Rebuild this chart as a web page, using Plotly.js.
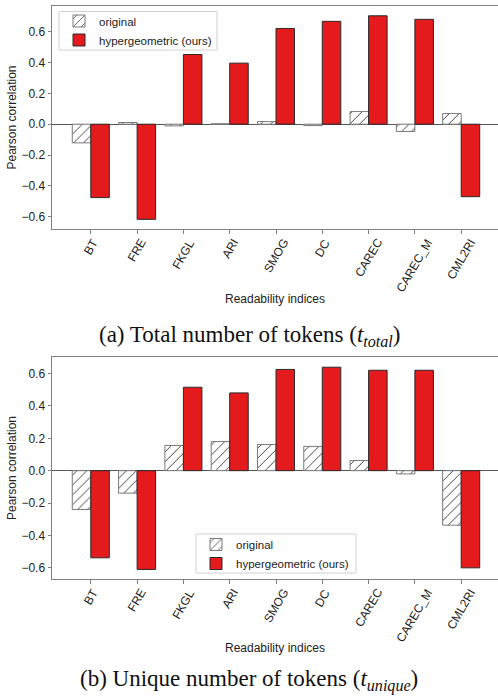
<!DOCTYPE html>
<html>
<head>
<meta charset="utf-8">
<script src="https://cdn.plot.ly/plotly-3.0.1.min.js"></script>
<style>html,body{margin:0;padding:0;background:#fff;}#chart{width:498px;height:697px;}</style>
</head>
<body>
<div id="chart"></div>
<script>
// ---- data ----
const categories = ['BT', 'FRE', 'FKGL', 'ARI', 'SMOG', 'DC', 'CAREC', 'CAREC_M', 'CML2RI'];
const seriesNames = ['original', 'hypergeometric (ours)'];
// (a) total number of tokens
const totalOriginal = [-0.121, 0.011, -0.011, 0.003, 0.017, -0.009, 0.082, -0.047, 0.069];
const totalHyper = [-0.476, -0.617, 0.452, 0.396, 0.621, 0.667, 0.703, 0.680, -0.470];
// (b) unique number of tokens
const uniqueOriginal = [-0.240, -0.139, 0.156, 0.180, 0.162, 0.150, 0.063, -0.020, -0.337];
const uniqueHyper = [-0.539, -0.611, 0.516, 0.481, 0.626, 0.640, 0.621, 0.621, -0.601];
const yTitle = 'Pearson correlation';
const xTitle = 'Readability indices';
const captionA = '(a) Total number of tokens (<i>t</i><sub><i>total</i></sub>)';
const captionB = '(b) Unique number of tokens (<i>t</i><sub><i>unique</i></sub>)';

// ---- style ----
const W = 498, H = 697;
const SANS = 'Liberation Sans, Arial, sans-serif';
const SERIF = 'Liberation Serif, Times New Roman, serif';
const RED = '#e41a1c';
const AXC = '#808080';
const py = p => 1 - p / H;
const px = p => p / W;

function origTrace(y, xa, ya, leg) {
  return {
    type: 'bar', x: categories, y: y, xaxis: xa, yaxis: ya, name: seriesNames[0], legend: leg,
    marker: {color: 'white', line: {color: '#7a7a7a', width: 1},
      pattern: {shape: '/', fgcolor: '#222', bgcolor: 'white', size: 7, solidity: 0.12}},
    hoverinfo: 'x+y'
  };
}
function hyperTrace(y, xa, ya, leg) {
  return {
    type: 'bar', x: categories, y: y, xaxis: xa, yaxis: ya, name: seriesNames[1], legend: leg,
    marker: {color: RED, line: {color: '#2a2a2a', width: 1}},
    hoverinfo: 'x+y'
  };
}

const data = [
  origTrace(totalOriginal, 'x', 'y', 'legend'),
  hyperTrace(totalHyper, 'x', 'y', 'legend'),
  origTrace(uniqueOriginal, 'x2', 'y2', 'legend2'),
  hyperTrace(uniqueHyper, 'x2', 'y2', 'legend2')
];

const xDomain = [52 / W, 1];
const xRange = [-0.838, 8.795];

function xAxis(anchor, standoff) {
  return {
    domain: xDomain, anchor: anchor, type: 'category', range: xRange,
    showline: true, linecolor: AXC, linewidth: 1, mirror: true,
    ticks: 'outside', ticklen: 3.5, tickcolor: AXC, tickwidth: 1,
    showticklabels: false, showgrid: false, zeroline: false, automargin: false,
    title: {text: xTitle, font: {family: SANS, size: 12, color: '#222'}, standoff: standoff}
  };
}
function yAxis(anchor, dom, rng) {
  return {
    domain: dom, anchor: anchor, range: rng, tick0: 0, dtick: 0.2, tickformat: '.1f',
    showline: true, linecolor: AXC, linewidth: 1, mirror: false,
    ticks: 'outside', ticklen: 3.5, tickcolor: AXC, tickwidth: 1,
    tickfont: {family: SANS, size: 12, color: '#222'},
    showgrid: false, zeroline: true, zerolinecolor: '#555', zerolinewidth: 1, automargin: false,
    title: {text: yTitle, font: {family: SANS, size: 12, color: '#222'}, standoff: 2}
  };
}

const annotations = [];
function addTickLabels(xref, bottomPx) {
  categories.forEach(c => {
    annotations.push({
      x: c, xref: xref, y: py(bottomPx), yref: 'paper', text: c, showarrow: false,
      textangle: -60, xanchor: 'center', yanchor: 'top', yshift: -6,
      font: {family: SANS, size: 12, color: '#222'}, borderpad: 0
    });
  });
}
addTickLabels('x', 229);
addTickLabels('x2', 579);
annotations.push({x: 0.502, xref: 'paper', y: py(336), yref: 'paper', text: captionA, showarrow: false,
  xanchor: 'center', yanchor: 'middle', font: {family: SERIF, size: 23, color: '#111'}});
annotations.push({x: 0.5, xref: 'paper', y: py(680), yref: 'paper', text: captionB, showarrow: false,
  xanchor: 'center', yanchor: 'middle', font: {family: SERIF, size: 23, color: '#111'}});

// legend frames (compact boxes like the reference)
function legendBox(x0, y0, x1, y1) {
  return {type: 'rect', xref: 'paper', yref: 'paper', x0: px(x0), x1: px(x1), y0: py(y1), y1: py(y0),
    fillcolor: 'rgba(255,255,255,0.9)', line: {color: '#d0d0d0', width: 1}, layer: 'above'};
}
const shapes = [legendBox(59, 11.5, 217, 50), legendBox(196, 534, 356, 573)];

const legendStyle = {
  xanchor: 'left', yanchor: 'top', bgcolor: 'rgba(0,0,0,0)', borderwidth: 0,
  font: {family: SANS, size: 11.5, color: '#222'}, tracegroupgap: 0, traceorder: 'normal'
};

const layout = {
  width: W, height: H, margin: {l: 0, r: 0, t: 0, b: 0, pad: 0},
  paper_bgcolor: 'white', plot_bgcolor: 'white',
  barmode: 'group', bargap: 0.2, bargroupgap: 0,
  xaxis: xAxis('y', 62),
  yaxis: yAxis('x', [py(229), py(6)], [-0.6796, 0.7665]),
  xaxis2: xAxis('y2', 61),
  yaxis2: yAxis('x2', [py(579), py(357)], [-0.670, 0.703]),
  legend: Object.assign({x: px(59), y: py(6.5)}, legendStyle),
  legend2: Object.assign({x: px(196), y: py(530)}, legendStyle),
  shapes: shapes,
  annotations: annotations,
  showlegend: true
};

Plotly.newPlot('chart', data, layout, {displayModeBar: false, staticPlot: true});
</script>
</body>
</html>
